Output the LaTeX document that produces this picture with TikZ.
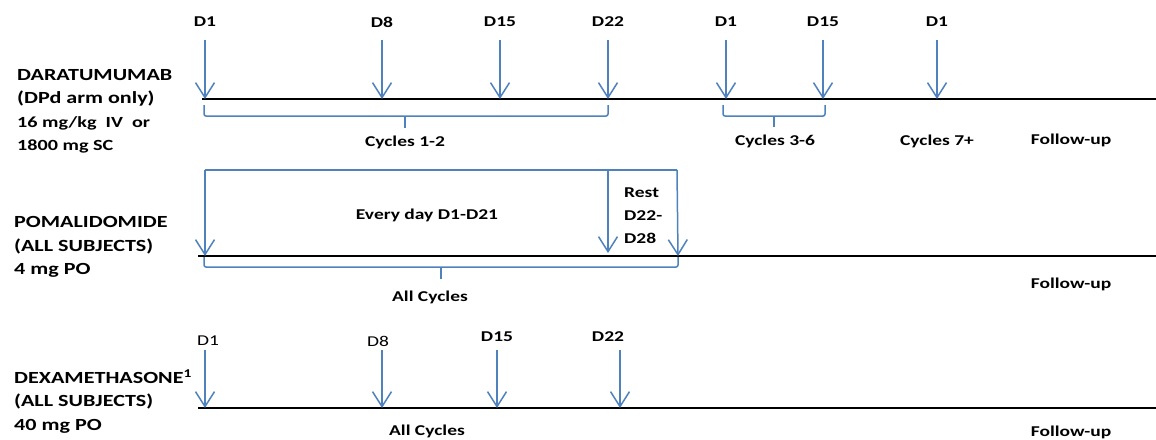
\documentclass[tikz,border=0pt]{standalone}
\usepackage{fontspec}
\setmainfont{Carlito}[FakeStretch=1.3]
\usetikzlibrary{arrows.meta}
\definecolor{doseblue}{RGB}{79,129,189}
\tikzset{
  dose/.style={draw=doseblue,line width=1.5pt,-{Straight Barb[length=15pt,width=19pt,line width=1.5pt]}},
  brace/.style={draw=doseblue,line width=1.5pt,rounded corners=2pt},
  tline/.style={draw=black,line width=2pt},
  day/.style={font=\fontsize{15}{18}\selectfont\bfseries,inner sep=0pt},
  dayl/.style={font=\fontsize{15}{18}\selectfont,inner sep=0pt},
  lab/.style={font=\fontsize{15}{18}\selectfont\bfseries,inner sep=0pt},
  drug/.style={font=\fontsize{17}{20}\selectfont\bfseries,inner sep=0pt,anchor=west},
}
\begin{document}
\begin{tikzpicture}[x=1pt,y=-1pt]
\useasboundingbox (0,0) rectangle (1156,439);
% ---------- Daratumumab ----------
\node[drug] (dara1) at (17,75) {DARATUMUMAB};
\node[drug] (dara2) at (17,99) {(DPd arm only)};
\node[drug,font=\fontsize{15.5}{18}\selectfont\bfseries] (dara3) at (17,123) {16 mg/kg\ \ IV\ \ or};
\node[drug,font=\fontsize{15.5}{18}\selectfont\bfseries] (dara4) at (17,146) {1800 mg SC};
\coordinate (ta0) at (202,99);
\coordinate (ta1) at (1156,99);
\draw[tline] (ta0) -- (ta1);
\foreach \n/\x/\t in {a/205/D1,b/382/D8,c/500/D15,d/608/D22,e/726/D1,f/823/D15,g/937/D1}{
  \node[day] (dl\n) at (\x,22) {\t};
  \coordinate (dt\n) at (\x,40);
  \coordinate (dh\n) at (\x,99);
  \draw[dose] (dt\n) -- (dh\n);
}
\draw[brace] (204,105) -- (204,116) -- (608,116) -- (608,105);
\coordinate (bm1) at (405,116);
\coordinate (bm1b) at (405,128);
\draw[brace] (bm1) -- (bm1b);
\draw[brace] (723,105) -- (723,116) -- (825,116) -- (825,105);
\coordinate (bm2) at (774,116);
\coordinate (bm2b) at (774,127);
\draw[brace] (bm2) -- (bm2b);
\node[lab] (c12) at (405,142) {Cycles 1-2};
\node[lab] (c36) at (775,141) {Cycles 3-6};
\node[lab] (c7) at (937,141) {Cycles 7+};
\node[lab] (fu1) at (1071,140) {Follow-up};
% ---------- Pomalidomide ----------
\node[drug] (pom1) at (14,222) {POMALIDOMIDE};
\node[drug] (pom2) at (14,246) {(ALL SUBJECTS)};
\node[drug] (pom3) at (14,270) {4 mg PO};
\coordinate (tb0) at (198,256);
\coordinate (tb1) at (1156,256);
\draw[tline] (tb0) -- (tb1);
\coordinate (pa) at (205,170);
\coordinate (pb) at (608,170);
\coordinate (pc) at (677,170);
\draw[draw=doseblue,line width=1.5pt] (pa) -- (pc);
\draw[dose] (pa) -- (205,256);
\draw[dose] (pb) -- (608,253);
\draw[dose] (pc) -- (678,256);
\draw[brace] (204,257) -- (204,267) -- (678,267) -- (678,257);
\coordinate (bm3) at (441,267);
\coordinate (bm3b) at (441,279);
\draw[brace] (bm3) -- (bm3b);
\node[lab] (ev) at (427,215) {Every day D1-D21};
\node[lab,align=left,anchor=north west,font=\fontsize{15}{23}\selectfont\bfseries] (rest) at (624,188) {Rest\\D22-\\D28};
\node[lab] (ac1) at (430,297) {All Cycles};
\node[lab] (fu2) at (1071,284) {Follow-up};
% ---------- Dexamethasone ----------
\node[drug] (dex1) at (14,377) {DEXAMETHASONE\textsuperscript{1}};
\node[drug] (dex2) at (14,401) {(ALL SUBJECTS)};
\node[drug] (dex3) at (14,426) {40 mg PO};
\coordinate (tc0) at (198,408);
\coordinate (tc1) at (1156,408);
\draw[tline] (tc0) -- (tc1);
\node[dayl] (xl1) at (208,341) {D1};
\node[dayl] (xl2) at (378,341) {D8};
\node[day] (xl3) at (497,337) {D15};
\node[day] (xl4) at (608,337) {D22};
\draw[dose] (205,350) -- (205,408);
\draw[dose] (382,350) -- (382,408);
\draw[dose] (497,350) -- (497,408);
\draw[dose] (620,350) -- (620,408);
\node[lab] (ac2) at (427,431) {All Cycles};
\node[lab] (fu3) at (1071,432) {Follow-up};
\end{tikzpicture}
\end{document}
